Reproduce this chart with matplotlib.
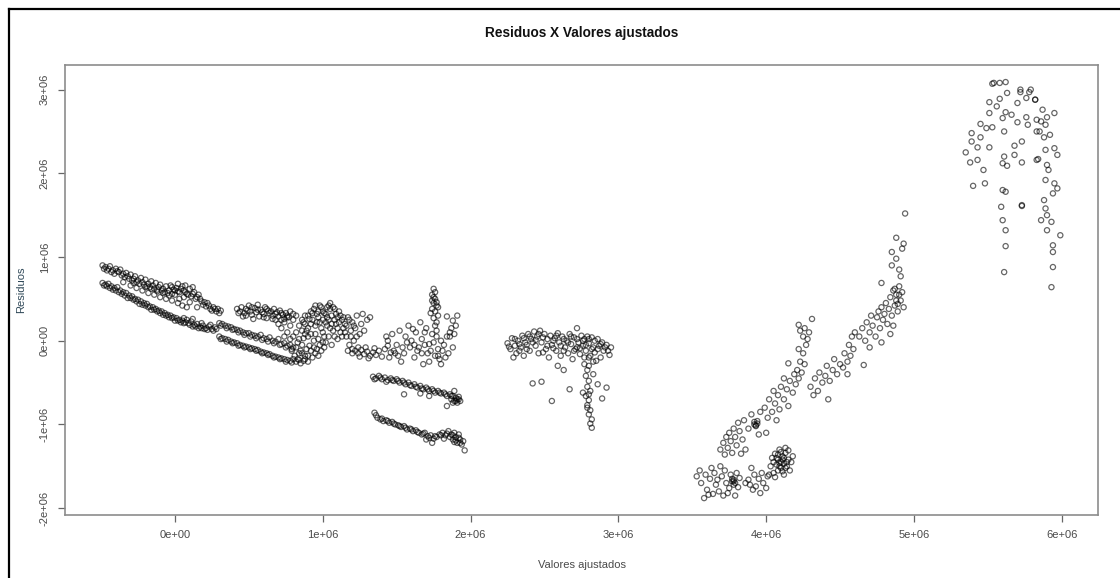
import numpy as np
import matplotlib
matplotlib.use("Agg")
import matplotlib.pyplot as plt
from matplotlib.lines import Line2D

# values, in millions (fitted value, residual)
SCALE = 1e6

band_upper = [
    (-0.49, 0.90), (-0.47, 0.88), (-0.45, 0.86), (-0.44, 0.89), (-0.42, 0.84), (-0.40, 0.86),
    (-0.38, 0.82), (-0.37, 0.85), (-0.35, 0.80), (-0.33, 0.81), (-0.32, 0.77), (-0.30, 0.79),
    (-0.28, 0.74), (-0.27, 0.77), (-0.25, 0.72), (-0.23, 0.75), (-0.22, 0.70), (-0.20, 0.73),
    (-0.18, 0.68), (-0.16, 0.71), (-0.15, 0.66), (-0.13, 0.69), (-0.11, 0.64), (-0.10, 0.67),
    (-0.08, 0.62), (-0.06, 0.65), (-0.04, 0.60), (-0.03, 0.66), (-0.01, 0.61), (0.01, 0.63),
    (0.03, 0.58), (0.05, 0.65), (0.06, 0.60), (0.08, 0.56), (0.10, 0.62), (0.11, 0.53),
    (0.13, 0.58), (0.14, 0.50), (0.16, 0.55), (0.18, 0.47), (0.19, 0.43), (0.21, 0.41),
    (0.22, 0.45), (0.24, 0.38), (0.26, 0.40), (0.28, 0.35), (0.29, 0.38),
    (-0.35, 0.70), (-0.30, 0.66), (-0.26, 0.63), (-0.22, 0.60), (-0.18, 0.57), (-0.14, 0.55),
    (-0.10, 0.52), (-0.06, 0.50), (-0.02, 0.48), (0.02, 0.45), (0.05, 0.42), (0.08, 0.40),
    (-0.20, 0.64), (-0.12, 0.59), (-0.04, 0.54), (0.03, 0.50), (0.10, 0.46), (0.15, 0.40),
    (-0.28, 0.69), (-0.16, 0.62), (-0.08, 0.57), (0.00, 0.55), (0.06, 0.52),
    (-0.48, 0.86), (-0.46, 0.84), (-0.43, 0.82), (-0.41, 0.80), (-0.39, 0.83), (-0.36, 0.78),
    (-0.34, 0.76), (-0.31, 0.74), (-0.29, 0.72), (-0.26, 0.70), (-0.24, 0.68), (-0.21, 0.67),
    (-0.19, 0.65), (-0.17, 0.64), (-0.14, 0.62), (-0.12, 0.61), (-0.09, 0.60), (-0.07, 0.58),
    (-0.05, 0.57), (-0.02, 0.56), (0.00, 0.60), (0.02, 0.59), (0.04, 0.62), (0.07, 0.58),
    (0.09, 0.55), (0.12, 0.56), (0.15, 0.52), (0.17, 0.50), (0.20, 0.46), (0.23, 0.42),
    (0.25, 0.36), (0.27, 0.38), (0.30, 0.33), (0.31, 0.36), (0.12, 0.64), (0.07, 0.66),
    (0.02, 0.68), (-0.02, 0.64),
]

band_lower = [
    (-0.49, 0.69), (-0.47, 0.67), (-0.45, 0.68), (-0.43, 0.65), (-0.41, 0.63), (-0.39, 0.64),
    (-0.37, 0.60), (-0.35, 0.58), (-0.33, 0.57), (-0.31, 0.54), (-0.29, 0.53), (-0.27, 0.50),
    (-0.25, 0.49), (-0.23, 0.47), (-0.21, 0.45), (-0.19, 0.44), (-0.17, 0.41), (-0.15, 0.40),
    (-0.13, 0.38), (-0.11, 0.36), (-0.09, 0.35), (-0.07, 0.33), (-0.05, 0.31), (-0.03, 0.30),
    (-0.01, 0.28), (0.01, 0.27), (0.03, 0.25), (0.05, 0.24), (0.07, 0.22), (0.09, 0.21),
    (0.11, 0.23), (0.13, 0.19), (0.15, 0.20), (0.17, 0.17), (0.19, 0.18), (0.21, 0.15),
    (0.23, 0.17), (0.25, 0.14), (0.27, 0.16), (-0.40, 0.60), (-0.32, 0.51), (-0.24, 0.44),
    (-0.16, 0.37), (-0.08, 0.31), (0.00, 0.24), (0.08, 0.25), (0.16, 0.15), (0.24, 0.19),
    (-0.48, 0.66), (-0.46, 0.65), (-0.44, 0.63), (-0.42, 0.61), (-0.38, 0.58), (-0.36, 0.56),
    (-0.34, 0.54), (-0.30, 0.51), (-0.28, 0.49), (-0.26, 0.47), (-0.22, 0.43), (-0.20, 0.42),
    (-0.18, 0.40), (-0.14, 0.37), (-0.12, 0.35), (-0.10, 0.33), (-0.06, 0.30), (-0.04, 0.28),
    (-0.02, 0.27), (0.02, 0.24), (0.04, 0.22), (0.06, 0.21), (0.10, 0.19), (0.12, 0.17),
    (0.14, 0.17), (0.18, 0.15), (0.20, 0.14), (0.22, 0.13), (0.26, 0.12), (0.28, 0.14),
    (0.06, 0.27), (0.12, 0.26), (0.18, 0.21),
]

cluster_mid = [
    (0.42, 0.38), (0.44, 0.35), (0.45, 0.40), (0.47, 0.33), (0.48, 0.38), (0.50, 0.42),
    (0.51, 0.35), (0.52, 0.31), (0.54, 0.39), (0.55, 0.34), (0.56, 0.43), (0.57, 0.29),
    (0.58, 0.37), (0.60, 0.32), (0.61, 0.40), (0.62, 0.27), (0.63, 0.36), (0.64, 0.33),
    (0.66, 0.30), (0.67, 0.38), (0.68, 0.25), (0.69, 0.34), (0.70, 0.29), (0.71, 0.36),
    (0.73, 0.31), (0.74, 0.26), (0.75, 0.33), (0.77, 0.28), (0.78, 0.35), (0.53, 0.26),
    (0.46, 0.29),
    (0.43, 0.33), (0.49, 0.36), (0.52, 0.40), (0.56, 0.37), (0.59, 0.34), (0.62, 0.38),
    (0.65, 0.35), (0.68, 0.32), (0.72, 0.33), (0.76, 0.30), (0.80, 0.32), (0.60, 0.28),
    (0.66, 0.26), (0.72, 0.25), (0.48, 0.30),
    (0.30, 0.21), (0.32, 0.20), (0.34, 0.18), (0.36, 0.17), (0.38, 0.16), (0.40, 0.14),
    (0.42, 0.13), (0.44, 0.12), (0.46, 0.10), (0.48, 0.09), (0.50, 0.09), (0.52, 0.07),
    (0.54, 0.06), (0.56, 0.05), (0.58, 0.07), (0.60, 0.03), (0.62, 0.02), (0.64, 0.04),
    (0.66, 0.00), (0.68, -0.01), (0.70, 0.02), (0.72, -0.04), (0.74, -0.03), (0.76, -0.06),
    (0.78, -0.05), (0.80, -0.08),
    (0.31, 0.18), (0.35, 0.15), (0.39, 0.13), (0.43, 0.10), (0.47, 0.07), (0.51, 0.05),
    (0.55, 0.03), (0.59, 0.01), (0.63, -0.01), (0.67, -0.03), (0.71, -0.05), (0.75, -0.08),
    (0.79, -0.10),
    (0.30, 0.05), (0.32, 0.03), (0.34, 0.02), (0.36, 0.01), (0.38, -0.01), (0.40, -0.02),
    (0.42, -0.03), (0.44, -0.05), (0.46, -0.06), (0.48, -0.07), (0.50, -0.08), (0.52, -0.09),
    (0.54, -0.10), (0.56, -0.11), (0.58, -0.13), (0.60, -0.14), (0.62, -0.15), (0.64, -0.16),
    (0.66, -0.18), (0.68, -0.19), (0.70, -0.20), (0.72, -0.21), (0.74, -0.22), (0.76, -0.23),
    (0.78, -0.24), (0.80, -0.22), (0.82, -0.25), (0.84, -0.23),
    (0.31, 0.02), (0.35, -0.01), (0.39, -0.03), (0.43, -0.06), (0.47, -0.08), (0.51, -0.10),
    (0.55, -0.12), (0.59, -0.15), (0.63, -0.17), (0.67, -0.20), (0.71, -0.22), (0.75, -0.25),
    (0.79, -0.26), (0.85, -0.27), (0.88, -0.22), (0.90, -0.25),
]

cluster_1e6 = [
    (0.80, 0.05), (0.82, 0.10), (0.83, -0.02), (0.84, 0.18), (0.85, -0.12), (0.86, 0.25),
    (0.87, 0.03), (0.88, -0.18), (0.89, 0.12), (0.90, 0.30), (0.91, -0.06), (0.92, 0.20),
    (0.93, -0.20), (0.94, 0.38), (0.95, 0.08), (0.96, -0.10), (0.97, 0.28), (0.98, 0.42),
    (0.99, 0.15), (1.00, -0.02), (1.01, 0.33), (1.02, 0.22), (1.03, 0.40), (1.04, 0.05),
    (1.05, 0.45), (1.06, 0.30), (1.07, 0.12), (1.08, 0.38), (1.09, 0.20), (1.10, 0.02),
    (1.11, 0.35), (1.12, 0.10), (1.13, 0.25), (1.14, 0.15), (0.86, -0.05), (0.88, 0.08),
    (0.90, 0.15), (0.92, -0.12), (0.94, 0.00), (0.96, 0.22), (0.98, -0.05), (1.00, 0.10),
    (1.02, 0.32), (1.04, 0.25), (1.06, -0.05), (1.08, 0.05), (1.10, 0.28), (0.84, 0.02),
    (0.87, 0.22), (0.93, 0.33), (0.97, 0.35), (0.99, 0.40), (1.03, 0.18), (1.05, 0.38),
    (0.91, 0.26), (0.95, 0.42), (0.89, -0.10), (0.95, -0.15), (1.01, -0.08), (0.81, -0.18),
    (0.83, -0.22), (0.79, -0.12), (0.87, -0.24),
    (0.82, -0.08), (0.84, -0.15), (0.86, 0.12), (0.88, 0.30), (0.90, 0.05), (0.90, -0.18),
    (0.92, 0.08), (0.93, 0.25), (0.94, -0.08), (0.95, 0.18), (0.96, 0.32), (0.97, 0.02),
    (0.97, -0.18), (0.98, 0.22), (0.99, -0.12), (1.00, 0.35), (1.00, 0.25), (1.01, 0.05),
    (1.02, -0.02), (1.03, 0.28), (1.04, 0.42), (1.05, 0.15), (1.06, 0.20), (1.07, 0.40),
    (1.08, 0.25), (1.09, 0.32), (1.10, 0.15), (1.11, 0.22), (1.12, 0.30), (1.13, 0.05),
    (1.14, 0.28), (1.15, 0.10), (1.16, 0.18), (1.18, 0.25), (1.19, 0.05), (1.21, 0.18),
    (1.23, 0.05), (0.92, 0.35), (0.88, 0.20), (0.86, -0.15),
    (0.72, 0.15), (0.74, 0.22), (0.76, 0.10), (0.78, 0.18), (0.80, 0.25), (0.82, 0.30),
    (0.74, 0.05), (0.78, 0.02), (0.70, 0.20), (0.76, 0.28),
    (1.15, 0.20), (1.16, 0.05), (1.17, 0.28), (1.18, -0.05), (1.19, 0.12), (1.20, 0.22),
    (1.21, 0.00), (1.22, 0.15), (1.23, 0.30), (1.24, -0.08), (1.25, 0.08), (1.26, 0.20),
    (1.27, 0.32), (1.28, 0.12), (1.17, -0.12), (1.20, -0.15), (1.30, 0.25), (1.32, 0.28),
    (1.20, -0.10), (1.22, -0.12), (1.24, -0.15), (1.26, -0.11), (1.28, -0.16), (1.30, -0.13),
    (1.32, -0.18), (1.34, -0.14), (1.36, -0.17), (1.38, -0.12), (1.40, -0.19), (1.29, -0.08),
    (1.35, -0.09), (1.25, -0.19), (1.31, -0.21),
]

cluster_17e5 = [
    (1.42, -0.10), (1.44, 0.00), (1.45, -0.20), (1.47, 0.08), (1.48, -0.12), (1.50, -0.05),
    (1.52, 0.12), (1.53, -0.25), (1.55, -0.15), (1.56, 0.05), (1.58, 0.18), (1.59, -0.08),
    (1.60, 0.00), (1.62, -0.20), (1.63, 0.10), (1.64, -0.12), (1.66, 0.22), (1.67, 0.02),
    (1.68, -0.28), (1.69, -0.05), (1.70, 0.15), (1.71, -0.15), (1.72, -0.25), (1.74, 0.08),
    (1.75, -0.02), (1.76, -0.18), (1.77, 0.05), (1.78, -0.10), (1.79, -0.22), (1.80, 0.00),
    (1.81, -0.12), (1.82, -0.05), (1.84, 0.05), (1.85, -0.15), (1.86, 0.10), (1.88, -0.08),
    (1.43, 0.05), (1.51, -0.18), (1.57, -0.02), (1.65, -0.08), (1.73, -0.12), (1.80, -0.28),
    (1.46, -0.14), (1.61, 0.14), (1.69, 0.10), (1.44, -0.06), (1.49, -0.15), (1.54, -0.08),
    (1.62, -0.05), (1.67, -0.15), (1.72, -0.04), (1.78, -0.18), (1.83, -0.20),
    (1.75, 0.62), (1.74, 0.55), (1.76, 0.50), (1.75, 0.45), (1.77, 0.42), (1.74, 0.38),
    (1.76, 0.35), (1.78, 0.30), (1.75, 0.27), (1.77, 0.22), (1.76, 0.18), (1.74, 0.48),
    (1.78, 0.40), (1.73, 0.33), (1.77, 0.12), (1.76, 0.58), (1.75, 0.52), (1.77, 0.46),
    (1.84, 0.29), (1.88, 0.24), (1.91, 0.30), (1.87, 0.15), (1.90, 0.18), (1.86, 0.05),
    (1.89, 0.08),
]

band_minus05 = [
    (1.34, -0.43), (1.36, -0.45), (1.38, -0.42), (1.40, -0.46), (1.42, -0.44), (1.44, -0.47),
    (1.46, -0.45), (1.48, -0.48), (1.50, -0.46), (1.52, -0.50), (1.54, -0.48), (1.56, -0.52),
    (1.55, -0.64), (1.58, -0.50), (1.60, -0.54), (1.62, -0.52), (1.64, -0.56), (1.66, -0.54),
    (1.68, -0.58), (1.70, -0.56), (1.72, -0.60), (1.74, -0.58), (1.76, -0.62), (1.78, -0.60),
    (1.80, -0.63), (1.82, -0.62), (1.84, -0.66), (1.84, -0.78), (1.86, -0.64), (1.87, -0.70),
    (1.88, -0.66), (1.89, -0.72), (1.90, -0.68), (1.91, -0.74), (1.92, -0.70), (1.93, -0.72),
    (1.89, -0.60), (1.66, -0.63), (1.72, -0.66),
    (1.35, -0.46), (1.39, -0.44), (1.43, -0.49), (1.47, -0.47), (1.51, -0.48), (1.55, -0.50),
    (1.59, -0.53), (1.63, -0.55), (1.67, -0.57), (1.71, -0.58), (1.75, -0.60), (1.79, -0.62),
    (1.83, -0.64), (1.87, -0.66), (1.90, -0.72), (1.92, -0.67), (1.88, -0.74), (1.91, -0.70),
]

band_minus1 = [
    (1.35, -0.86), (1.37, -0.92), (1.39, -0.94), (1.41, -0.96), (1.43, -0.95), (1.45, -0.98),
    (1.47, -0.97), (1.49, -1.00), (1.51, -1.01), (1.53, -1.03), (1.55, -1.02), (1.57, -1.06),
    (1.59, -1.05), (1.61, -1.08), (1.63, -1.07), (1.65, -1.10), (1.67, -1.12), (1.69, -1.10),
    (1.71, -1.14), (1.73, -1.13), (1.75, -1.17), (1.77, -1.15), (1.79, -1.12), (1.81, -1.10),
    (1.83, -1.13), (1.85, -1.08), (1.87, -1.12), (1.88, -1.18), (1.89, -1.10), (1.90, -1.15),
    (1.91, -1.22), (1.92, -1.12), (1.93, -1.18), (1.94, -1.24), (1.95, -1.20), (1.96, -1.31),
    (1.74, -1.22), (1.70, -1.18),
    (1.36, -0.89), (1.40, -0.93), (1.44, -0.96), (1.48, -0.99), (1.52, -1.02), (1.56, -1.04),
    (1.60, -1.06), (1.64, -1.09), (1.68, -1.11), (1.72, -1.16), (1.76, -1.14), (1.80, -1.13),
    (1.84, -1.11), (1.86, -1.15), (1.88, -1.13), (1.90, -1.19), (1.92, -1.16), (1.93, -1.22),
    (1.89, -1.21), (1.82, -1.17),
]

cluster_25e5 = [
    (2.25, -0.03), (2.27, -0.10), (2.28, 0.03), (2.30, -0.06), (2.31, -0.15), (2.32, 0.00),
    (2.34, -0.08), (2.35, 0.06), (2.36, -0.18), (2.37, -0.02), (2.39, 0.08), (2.40, -0.12),
    (2.41, 0.02), (2.43, 0.11), (2.44, -0.06), (2.45, 0.05), (2.46, -0.15), (2.47, 0.12),
    (2.48, -0.02), (2.50, 0.08), (2.51, -0.10), (2.52, 0.02), (2.53, -0.20), (2.54, 0.06),
    (2.55, -0.05), (2.57, 0.03), (2.58, -0.12), (2.59, 0.09), (2.60, -0.02), (2.61, -0.18),
    (2.62, 0.05), (2.64, -0.08), (2.65, 0.00), (2.66, -0.15), (2.67, 0.08), (2.68, -0.04),
    (2.69, -0.22), (2.70, 0.04), (2.71, -0.10), (2.72, 0.15), (2.73, -0.02), (2.74, -0.16),
    (2.75, 0.06), (2.76, -0.06), (2.77, 0.02), (2.78, -0.12), (2.79, 0.05), (2.80, -0.03),
    (2.81, -0.18), (2.82, 0.04), (2.83, -0.08), (2.84, -0.14), (2.86, 0.02), (2.87, -0.06),
    (2.88, -0.20), (2.89, -0.02), (2.90, -0.12), (2.92, -0.05), (2.94, -0.17), (2.95, -0.08),
    (2.29, -0.20), (2.33, -0.12), (2.38, -0.05), (2.42, -0.02), (2.49, -0.14), (2.56, -0.09),
    (2.63, -0.12), (2.72, -0.08), (2.77, -0.20), (2.85, -0.24),
    (2.26, -0.07), (2.30, 0.02), (2.33, -0.04), (2.36, 0.03), (2.38, -0.10), (2.40, 0.05),
    (2.44, 0.01), (2.46, 0.08), (2.49, 0.04), (2.52, -0.06), (2.56, 0.00), (2.58, 0.06),
    (2.61, -0.06), (2.63, 0.02), (2.66, -0.02), (2.68, 0.05), (2.70, -0.12), (2.72, 0.02),
    (2.74, -0.09), (2.76, 0.00), (2.78, -0.05), (2.80, 0.02), (2.82, -0.10), (2.84, 0.00),
    (2.86, -0.10), (2.88, -0.04), (2.91, -0.08), (2.93, -0.12), (2.80, -0.20), (2.83, -0.25),
    (2.80, -0.30),
    (2.42, -0.51), (2.48, -0.49), (2.55, -0.72), (2.67, -0.58), (2.92, -0.56), (2.89, -0.69),
    (2.86, -0.52), (2.59, -0.30), (2.63, -0.35),
    (2.77, -0.28), (2.79, -0.35), (2.78, -0.42), (2.80, -0.48), (2.79, -0.55), (2.81, -0.60),
    (2.78, -0.66), (2.80, -0.71), (2.79, -0.77), (2.81, -0.83), (2.80, -0.88), (2.82, -0.94),
    (2.81, -0.99), (2.82, -1.04), (2.76, -0.62), (2.83, -0.40), (2.80, -0.64), (2.79, -0.80),
]

cluster_4e6 = [
    (3.53, -1.62), (3.55, -1.55), (3.56, -1.70), (3.58, -1.88), (3.59, -1.60), (3.60, -1.78),
    (3.62, -1.65), (3.63, -1.52), (3.64, -1.83), (3.65, -1.58), (3.66, -1.72), (3.67, -1.66),
    (3.68, -1.80), (3.70, -1.62), (3.71, -1.85), (3.72, -1.55), (3.73, -1.70), (3.75, -1.76),
    (3.76, -1.60), (3.77, -1.68), (3.78, -1.72), (3.78, -1.66), (3.79, -1.85), (3.80, -1.58),
    (3.81, -1.75), (3.82, -1.64), (3.69, -1.50), (3.74, -1.82), (3.61, -1.84),
    (3.78, -1.68), (3.79, -1.70), (3.77, -1.65),
    (3.86, -1.70), (3.88, -1.66), (3.89, -1.72), (3.91, -1.78), (3.92, -1.60), (3.93, -1.74),
    (3.95, -1.65), (3.96, -1.82), (3.97, -1.58), (3.98, -1.70), (4.00, -1.76), (4.01, -1.62),
    (3.90, -1.52),
    (4.03, -1.50), (4.04, -1.40), (4.05, -1.58), (4.06, -1.35), (4.07, -1.48), (4.08, -1.55),
    (4.08, -1.42), (4.09, -1.30), (4.10, -1.45), (4.10, -1.52), (4.11, -1.38), (4.12, -1.60),
    (4.12, -1.47), (4.13, -1.34), (4.14, -1.50), (4.15, -1.42), (4.15, -1.31), (4.16, -1.55),
    (4.17, -1.45), (4.18, -1.38), (4.06, -1.63), (4.11, -1.56), (4.02, -1.60), (4.13, -1.28),
    (4.05, -1.45), (4.09, -1.50), (4.07, -1.40), (4.09, -1.46), (4.11, -1.42), (4.13, -1.52),
    (4.08, -1.36), (4.12, -1.40), (4.10, -1.33), (4.14, -1.45),
    (3.69, -1.30), (3.71, -1.22), (3.73, -1.15), (3.74, -1.28), (3.75, -1.10), (3.76, -1.20),
    (3.78, -1.05), (3.79, -1.15), (3.80, -1.25), (3.81, -0.98), (3.82, -1.08), (3.84, -1.18),
    (3.85, -0.95), (3.86, -1.30), (3.88, -1.05), (3.90, -0.88), (3.92, -1.00), (3.93, -1.02),
    (3.94, -0.96), (3.95, -1.12), (3.96, -0.85), (3.77, -1.34), (3.83, -1.35), (3.72, -1.36),
    (3.93, -1.01), (3.94, -0.99), (3.92, -0.97),
    (3.99, -0.80), (4.01, -0.92), (4.02, -0.70), (4.04, -0.85), (4.05, -0.60), (4.06, -0.75),
    (4.08, -0.65), (4.09, -0.82), (4.10, -0.55), (4.12, -0.70), (4.14, -0.58), (4.15, -0.78),
    (4.16, -0.48), (4.18, -0.62), (4.19, -0.40), (4.20, -0.52), (4.21, -0.35), (4.22, -0.45),
    (4.23, -0.25), (4.24, -0.38), (4.25, -0.15), (4.26, -0.28), (4.22, -0.10), (4.27, -0.05),
    (4.25, 0.05), (4.28, 0.02), (4.23, 0.12), (4.26, 0.15), (4.31, 0.26), (4.22, 0.19),
    (4.29, 0.10), (4.15, -0.27), (4.12, -0.45), (4.00, -1.10), (4.07, -0.95),
]

cluster_47e5 = [
    (4.30, -0.55), (4.32, -0.65), (4.33, -0.45), (4.35, -0.60), (4.36, -0.38), (4.38, -0.50),
    (4.40, -0.42), (4.41, -0.30), (4.43, -0.48), (4.45, -0.35), (4.46, -0.22), (4.48, -0.40),
    (4.50, -0.28), (4.52, -0.32), (4.53, -0.15), (4.55, -0.25), (4.56, -0.05), (4.57, -0.18),
    (4.58, 0.05), (4.59, -0.10), (4.60, 0.10), (4.55, -0.40), (4.42, -0.70), (4.66, -0.29),
    (4.63, 0.05), (4.65, 0.15), (4.67, 0.00), (4.68, 0.22), (4.70, 0.10), (4.71, 0.30),
    (4.72, 0.18), (4.74, 0.05), (4.75, 0.28), (4.76, 0.35), (4.77, 0.15), (4.78, 0.40),
    (4.79, 0.25), (4.80, 0.32), (4.81, 0.45), (4.82, 0.20), (4.83, 0.38), (4.84, 0.52),
    (4.85, 0.30), (4.86, 0.60), (4.87, 0.42), (4.88, 0.55), (4.89, 0.35), (4.90, 0.65),
    (4.91, 0.48), (4.92, 0.58), (4.93, 0.40), (4.86, 0.18), (4.84, 0.08), (4.78, -0.02),
    (4.70, -0.08), (4.88, 0.48), (4.90, 0.55), (4.87, 0.62), (4.89, 0.44),
    (4.94, 1.52), (4.88, 1.23), (4.93, 1.16), (4.85, 1.06), (4.88, 0.98), (4.85, 0.90),
    (4.91, 0.77), (4.78, 0.69), (4.90, 0.85), (4.92, 1.10),
]

cluster_57e5 = [
    (5.53, 3.07), (5.58, 3.08), (5.62, 3.09), (5.51, 2.85), (5.58, 2.89), (5.63, 2.96),
    (5.72, 2.97), (5.78, 2.97), (5.70, 2.84), (5.51, 2.72), (5.60, 2.66), (5.62, 2.73),
    (5.45, 2.59), (5.49, 2.54), (5.39, 2.48), (5.45, 2.43), (5.43, 2.31), (5.39, 2.38),
    (5.35, 2.25), (5.38, 2.13), (5.43, 2.16), (5.47, 2.04), (5.40, 1.85), (5.48, 1.88),
    (5.51, 2.31), (5.53, 2.55), (5.61, 2.50), (5.61, 2.20), (5.60, 2.12), (5.63, 2.09),
    (5.68, 2.33), (5.68, 2.22), (5.73, 2.38), (5.73, 2.13), (5.60, 1.80), (5.62, 1.78),
    (5.59, 1.60), (5.73, 1.61), (5.60, 1.44), (5.62, 1.32), (5.62, 1.13), (5.61, 0.82),
    (5.76, 2.67), (5.77, 2.58), (5.70, 2.61), (5.83, 2.64), (5.83, 2.50), (5.84, 2.17),
    (5.76, 2.90), (5.82, 2.88),
    (5.72, 3.00), (5.79, 3.00), (5.82, 2.88), (5.87, 2.76), (5.90, 2.67), (5.95, 2.72),
    (5.89, 2.58), (5.85, 2.50), (5.88, 2.43), (5.89, 2.28), (5.95, 2.30), (5.97, 2.22),
    (5.90, 2.10), (5.91, 2.04), (5.83, 2.16), (5.89, 1.92), (5.95, 1.88), (5.97, 1.82),
    (5.88, 1.68), (5.89, 1.58), (5.90, 1.50), (5.86, 1.44), (5.93, 1.42), (5.94, 1.76),
    (5.73, 1.62), (5.90, 1.32), (5.99, 1.26), (5.94, 1.14), (5.94, 1.06), (5.94, 0.88),
    (5.93, 0.64), (5.54, 3.08), (5.56, 2.80), (5.66, 2.70), (5.86, 2.62), (5.92, 2.46),
]

clusters = [band_upper, band_lower, cluster_mid, cluster_1e6, cluster_17e5, band_minus05,
            band_minus1, cluster_25e5, cluster_4e6, cluster_47e5, cluster_57e5]

x_ticks = [0, 1e6, 2e6, 3e6, 4e6, 5e6, 6e6]
x_tick_labels = ["0e+00", "1e+06", "2e+06", "3e+06", "4e+06", "5e+06", "6e+06"]
y_ticks = [-2e6, -1e6, 0, 1e6, 2e6, 3e6]
y_tick_labels = ["-2e+06", "-1e+06", "0e+00", "1e+06", "2e+06", "3e+06"]


def main():
    plt.rcParams['font.family'] = ['Liberation Sans', 'DejaVu Sans']

    fig = plt.figure(figsize=(11.2, 5.78), dpi=100)
    ax = fig.add_axes([65 / 1120, 1 - 515 / 578, (1098 - 65) / 1120, (515 - 65) / 578])

    pts = np.array([p for c in clusters for p in c]) * SCALE
    # semi-transparent edges: single circles look grey, overlaps go dark like the original
    ax.scatter(pts[:, 0], pts[:, 1], s=14, facecolors="none", edgecolors=(0, 0, 0, 0.6),
               linewidths=0.9)

    # R pads the data range by 4% on each side
    ax.set_xlim(-0.744e6, 6.245e6)
    ax.set_ylim(-2.082e6, 3.294e6)

    ax.set_xticks(x_ticks)
    ax.set_xticklabels(x_tick_labels)
    ax.set_yticks(y_ticks)
    ax.set_yticklabels(y_tick_labels, rotation=90, va="center")

    for s in ax.spines.values():
        s.set_color("#8c8c8c")
        s.set_linewidth(1.2)
    ax.tick_params(direction="out", length=5, width=0.9, color="#666666",
                   labelcolor="#4a4a4a", labelsize=8, pad=6)

    ax.set_title("Residuos X Valores ajustados", fontsize=9.8, fontweight="bold",
                 color="#111111", pad=20)
    ax.set_xlabel("Valores ajustados", fontsize=8, color="#4a4a4a", labelpad=14)
    ax.set_ylabel("Residuos", fontsize=8, color="#2f4858", labelpad=10)

    # black frame of the screenshot, only top and left edges visible
    fig.add_artist(Line2D([9 / 1120, 9 / 1120], [0, 1 - 9 / 578], color="black", lw=1.6,
                          transform=fig.transFigure))
    fig.add_artist(Line2D([9 / 1120, 1], [1 - 9 / 578, 1 - 9 / 578], color="black", lw=1.6,
                          transform=fig.transFigure))

    fig.savefig("out.png", dpi=100)


if __name__ == '__main__':
    main()
